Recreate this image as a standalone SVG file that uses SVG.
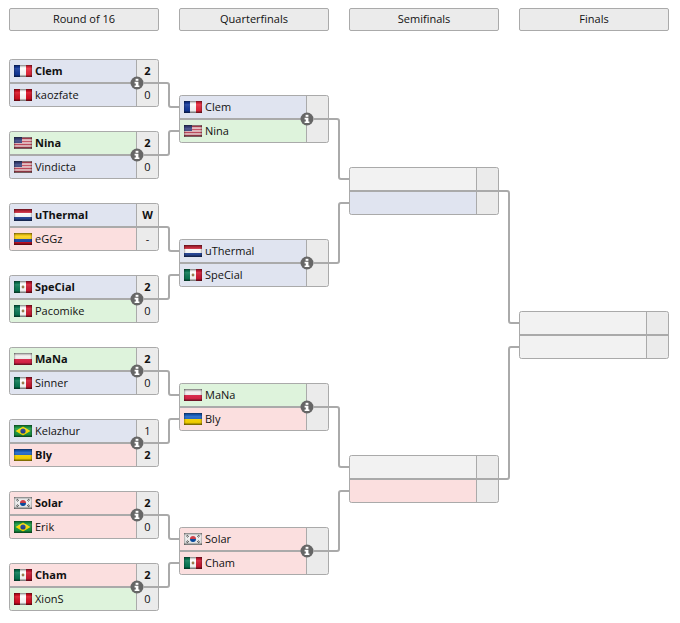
<svg xmlns="http://www.w3.org/2000/svg" width="680" height="623" viewBox="0 0 680 623">
<style>
text{font-family:"Open Sans","Noto Sans","Liberation Sans",sans-serif;font-size:11px;fill:#111}
.b{font-weight:700}
.s{text-anchor:middle}
.h{text-anchor:middle;font-size:11px}
.head{fill:#ebebeb;stroke:#aaa}
.blue{fill:#e0e4f0}.green{fill:#def3dc}.red{fill:#fbdfdf}.none{fill:#f2f2f2}.score{fill:#ebebeb}
.out{fill:none;stroke:#aaa}
.div{stroke:#aaa;fill:none}
.mid{stroke:#aaa;stroke-width:2;fill:none}
.con{stroke:#aaa;stroke-width:2;fill:none}
</style>
<defs>
<clipPath id="box"><rect x="0.5" y="0.5" width="149" height="47" rx="2"/></clipPath>
<filter id="soft" x="0" y="0" width="1" height="1"><feGaussianBlur stdDeviation="0.45"/></filter>
<linearGradient id="gloss" x1="0" y1="0" x2="0" y2="1">
<stop offset="0" stop-color="#000" stop-opacity=".5"/><stop offset=".18" stop-color="#000" stop-opacity=".05"/><stop offset=".3" stop-color="#fff" stop-opacity=".12"/><stop offset=".78" stop-color="#000" stop-opacity=".05"/><stop offset="1" stop-color="#000" stop-opacity=".6"/>
</linearGradient>
<linearGradient id="side" x1="0" y1="0" x2="1" y2="0">
<stop offset="0" stop-color="#000" stop-opacity=".3"/><stop offset=".1" stop-color="#000" stop-opacity="0"/><stop offset=".9" stop-color="#000" stop-opacity="0"/><stop offset="1" stop-color="#000" stop-opacity=".3"/>
</linearGradient>
<g id="sheen"><rect width="18" height="12" fill="url(#gloss)"/><rect width="18" height="12" fill="url(#side)"/></g>
<symbol id="fr" width="18" height="12"><rect width="6" height="12" fill="#12389c"/><rect x="6" width="6" height="12" fill="#fff"/><rect x="12" width="6" height="12" fill="#e8283c"/><use href="#sheen"/></symbol>
<symbol id="pe" width="18" height="12"><rect width="6" height="12" fill="#d91023"/><rect x="6" width="6" height="12" fill="#fff"/><rect x="12" width="6" height="12" fill="#d91023"/><use href="#sheen"/></symbol>
<symbol id="us" width="18" height="12"><g filter="url(#soft)"><rect width="18" height="12" fill="#f0dcdc"/><path d="M0 1.500H18M0 4.500H18M0 7.500H18M0 10.500H18" stroke="#c44a5c" stroke-width="1.300"/><rect width="8" height="6" fill="#3a4580"/></g><use href="#sheen"/></symbol>
<symbol id="nl" width="18" height="12"><rect width="18" height="4" fill="#c8283c"/><rect y="4" width="18" height="4" fill="#fff"/><rect y="8" width="18" height="4" fill="#2a4a9c"/><use href="#sheen"/></symbol>
<symbol id="co" width="18" height="12"><rect width="18" height="6" fill="#fcd116"/><rect y="6" width="18" height="3" fill="#1f4aa8"/><rect y="9" width="18" height="3" fill="#ce1126"/><use href="#sheen"/></symbol>
<symbol id="mx" width="18" height="12"><rect width="6" height="12" fill="#0a7a55"/><rect x="6" width="6" height="12" fill="#fff"/><rect x="12" width="6" height="12" fill="#d01832"/><circle cx="9" cy="6" r="1.400" fill="#9a7a4a"/><use href="#sheen"/></symbol>
<symbol id="pl" width="18" height="12"><rect width="18" height="6" fill="#f4f0f0"/><rect y="6" width="18" height="6" fill="#e0264a"/><use href="#sheen"/></symbol>
<symbol id="br" width="18" height="12"><rect width="18" height="12" fill="#1a9a45"/><path d="M9 1.500L16.500 6L9 10.500L1.500 6Z" fill="#fedf00"/><circle cx="9" cy="6" r="2.600" fill="#1f3f8f"/><use href="#sheen"/></symbol>
<symbol id="ua" width="18" height="12"><rect width="18" height="6" fill="#1a62c4"/><rect y="6" width="18" height="6" fill="#fdd800"/><use href="#sheen"/></symbol>
<symbol id="kr" width="18" height="12"><rect width="18" height="12" fill="#f4f4f4"/><path d="M6 6a3 3 0 0 1 6 0Z" fill="#cd2e3a"/><path d="M6 6a3 3 0 0 0 6 0Z" fill="#0047a0"/><path d="M2 3.500L4 2M3 4.500L5 3M14 2L16 3.500M13 3L15 4.500M2 8.500L4 10M3 7.500L5 9M14 10L16 8.500M13 9L15 7.500" stroke="#333" stroke-width=".8"/><use href="#sheen"/></symbol>
<symbol id="info" width="14" height="14" viewBox="-7 -7 14 14"><circle r="6.500" fill="#666"/><rect x="-1.400" y="-4.200" width="2.800" height="2" fill="#fff"/><path d="M-2.400-1.200H1.400V2.400H2.400V4H-2.400V2.400H-1.200V.4H-2.400Z" fill="#fff"/></symbol>
<g id="frame"><line class="div" x1="127.500" y1="0" x2="127.500" y2="48"/><line class="mid" x1="0" y1="24" x2="150" y2="24"/><rect class="out" x="0.500" y="0.500" width="149" height="47" rx="2"/></g>
<g id="rows"><rect class="score" x="127.500" y="0" width="23" height="48"/></g>
</defs>

<g id="headers">
<g id="head-r16"><rect class="head" x="9.500" y="8.500" width="149" height="22" rx="1.500"/><text class="h" x="84" y="23">Round of 16</text></g>
<g id="head-qf"><rect class="head" x="179.500" y="8.500" width="149" height="22" rx="1.500"/><text class="h" x="254" y="23">Quarterfinals</text></g>
<g id="head-sf"><rect class="head" x="349.500" y="8.500" width="149" height="22" rx="1.500"/><text class="h" x="424" y="23">Semifinals</text></g>
<g id="head-f"><rect class="head" x="519.500" y="8.500" width="149" height="22" rx="1.500"/><text class="h" x="594" y="23">Finals</text></g>
</g>

<g id="match-r16-1" transform="translate(9 59)"><g clip-path="url(#box)"><rect class="blue" width="128" height="24"/><rect class="blue" y="24" width="128" height="24"/><use href="#rows"/></g><use href="#frame"/><use href="#fr" x="5" y="6"/><text class="b" x="26" y="16">Clem</text><text class="b s" x="138.500" y="16">2</text><use href="#pe" x="5" y="30"/><text x="26" y="40">kaozfate</text><text class="s" x="138.500" y="40">0</text><use href="#info" x="121" y="17"/></g>
<g id="match-r16-2" transform="translate(9 131)"><g clip-path="url(#box)"><rect class="green" width="128" height="24"/><rect class="blue" y="24" width="128" height="24"/><use href="#rows"/></g><use href="#frame"/><use href="#us" x="5" y="6"/><text class="b" x="26" y="16">Nina</text><text class="b s" x="138.500" y="16">2</text><use href="#us" x="5" y="30"/><text x="26" y="40">Vindicta</text><text class="s" x="138.500" y="40">0</text><use href="#info" x="121" y="17"/></g>
<g id="match-r16-3" transform="translate(9 203)"><g clip-path="url(#box)"><rect class="blue" width="128" height="24"/><rect class="red" y="24" width="128" height="24"/><use href="#rows"/></g><use href="#frame"/><use href="#nl" x="5" y="6"/><text class="b" x="26" y="16">uThermal</text><text class="b s" x="138.500" y="16">W</text><use href="#co" x="5" y="30"/><text x="26" y="40">eGGz</text><text class="s" x="138.500" y="40">-</text></g>
<g id="match-r16-4" transform="translate(9 275)"><g clip-path="url(#box)"><rect class="blue" width="128" height="24"/><rect class="green" y="24" width="128" height="24"/><use href="#rows"/></g><use href="#frame"/><use href="#mx" x="5" y="6"/><text class="b" x="26" y="16">SpeCial</text><text class="b s" x="138.500" y="16">2</text><use href="#mx" x="5" y="30"/><text x="26" y="40">Pacomike</text><text class="s" x="138.500" y="40">0</text><use href="#info" x="121" y="17"/></g>
<g id="match-r16-5" transform="translate(9 347)"><g clip-path="url(#box)"><rect class="green" width="128" height="24"/><rect class="blue" y="24" width="128" height="24"/><use href="#rows"/></g><use href="#frame"/><use href="#pl" x="5" y="6"/><text class="b" x="26" y="16">MaNa</text><text class="b s" x="138.500" y="16">2</text><use href="#mx" x="5" y="30"/><text x="26" y="40">Sinner</text><text class="s" x="138.500" y="40">0</text><use href="#info" x="121" y="17"/></g>
<g id="match-r16-6" transform="translate(9 419)"><g clip-path="url(#box)"><rect class="blue" width="128" height="24"/><rect class="red" y="24" width="128" height="24"/><use href="#rows"/></g><use href="#frame"/><use href="#br" x="5" y="6"/><text x="26" y="16">Kelazhur</text><text class="s" x="138.500" y="16">1</text><use href="#ua" x="5" y="30"/><text class="b" x="26" y="40">Bly</text><text class="b s" x="138.500" y="40">2</text><use href="#info" x="121" y="17"/></g>
<g id="match-r16-7" transform="translate(9 491)"><g clip-path="url(#box)"><rect class="red" width="128" height="24"/><rect class="red" y="24" width="128" height="24"/><use href="#rows"/></g><use href="#frame"/><use href="#kr" x="5" y="6"/><text class="b" x="26" y="16">Solar</text><text class="b s" x="138.500" y="16">2</text><use href="#br" x="5" y="30"/><text x="26" y="40">Erik</text><text class="s" x="138.500" y="40">0</text><use href="#info" x="121" y="17"/></g>
<g id="match-r16-8" transform="translate(9 563)"><g clip-path="url(#box)"><rect class="red" width="128" height="24"/><rect class="green" y="24" width="128" height="24"/><use href="#rows"/></g><use href="#frame"/><use href="#mx" x="5" y="6"/><text class="b" x="26" y="16">Cham</text><text class="b s" x="138.500" y="16">2</text><use href="#pe" x="5" y="30"/><text x="26" y="40">XionS</text><text class="s" x="138.500" y="40">0</text><use href="#info" x="121" y="17"/></g>

<g id="match-qf-1" transform="translate(179 95)"><g clip-path="url(#box)"><rect class="blue" width="128" height="24"/><rect class="green" y="24" width="128" height="24"/><use href="#rows"/></g><use href="#frame"/><use href="#fr" x="5" y="6"/><text x="26" y="16">Clem</text><use href="#us" x="5" y="30"/><text x="26" y="40">Nina</text><use href="#info" x="121" y="17"/></g>
<g id="match-qf-2" transform="translate(179 239)"><g clip-path="url(#box)"><rect class="blue" width="128" height="24"/><rect class="blue" y="24" width="128" height="24"/><use href="#rows"/></g><use href="#frame"/><use href="#nl" x="5" y="6"/><text x="26" y="16">uThermal</text><use href="#mx" x="5" y="30"/><text x="26" y="40">SpeCial</text><use href="#info" x="121" y="17"/></g>
<g id="match-qf-3" transform="translate(179 383)"><g clip-path="url(#box)"><rect class="green" width="128" height="24"/><rect class="red" y="24" width="128" height="24"/><use href="#rows"/></g><use href="#frame"/><use href="#pl" x="5" y="6"/><text x="26" y="16">MaNa</text><use href="#ua" x="5" y="30"/><text x="26" y="40">Bly</text><use href="#info" x="121" y="17"/></g>
<g id="match-qf-4" transform="translate(179 527)"><g clip-path="url(#box)"><rect class="red" width="128" height="24"/><rect class="red" y="24" width="128" height="24"/><use href="#rows"/></g><use href="#frame"/><use href="#kr" x="5" y="6"/><text x="26" y="16">Solar</text><use href="#mx" x="5" y="30"/><text x="26" y="40">Cham</text><use href="#info" x="121" y="17"/></g>

<g id="match-sf-1" transform="translate(349 167)"><g clip-path="url(#box)"><rect class="none" width="128" height="24"/><rect class="blue" y="24" width="128" height="24"/><use href="#rows"/></g><use href="#frame"/></g>
<g id="match-sf-2" transform="translate(349 455)"><g clip-path="url(#box)"><rect class="none" width="128" height="24"/><rect class="red" y="24" width="128" height="24"/><use href="#rows"/></g><use href="#frame"/></g>
<g id="match-final" transform="translate(519 311)"><g clip-path="url(#box)"><rect class="none" width="128" height="24"/><rect class="none" y="24" width="128" height="24"/><use href="#rows"/></g><use href="#frame"/></g>

<g id="connectors">
<path class="con" d="M143 83H167a2 2 0 0 1 2 2V105a2 2 0 0 0 2 2H180"/>
<path class="con" d="M143 155H167a2 2 0 0 0 2-2V133a2 2 0 0 1 2-2H180"/>
<path class="con" d="M158 227H167a2 2 0 0 1 2 2V249a2 2 0 0 0 2 2H180"/>
<path class="con" d="M143 299H167a2 2 0 0 0 2-2V277a2 2 0 0 1 2-2H180"/>
<path class="con" d="M143 371H167a2 2 0 0 1 2 2V393a2 2 0 0 0 2 2H180"/>
<path class="con" d="M143 443H167a2 2 0 0 0 2-2V421a2 2 0 0 1 2-2H180"/>
<path class="con" d="M143 515H167a2 2 0 0 1 2 2V537a2 2 0 0 0 2 2H180"/>
<path class="con" d="M143 587H167a2 2 0 0 0 2-2V565a2 2 0 0 1 2-2H180"/>
<path class="con" d="M313 119H337a2 2 0 0 1 2 2V177a2 2 0 0 0 2 2H350"/>
<path class="con" d="M313 263H337a2 2 0 0 0 2-2V205a2 2 0 0 1 2-2H350"/>
<path class="con" d="M313 407H337a2 2 0 0 1 2 2V465a2 2 0 0 0 2 2H350"/>
<path class="con" d="M313 551H337a2 2 0 0 0 2-2V493a2 2 0 0 1 2-2H350"/>
<path class="con" d="M498 191H507a2 2 0 0 1 2 2V321a2 2 0 0 0 2 2H520"/>
<path class="con" d="M498 479H507a2 2 0 0 0 2-2V349a2 2 0 0 1 2-2H520"/>
</g>
</svg>
